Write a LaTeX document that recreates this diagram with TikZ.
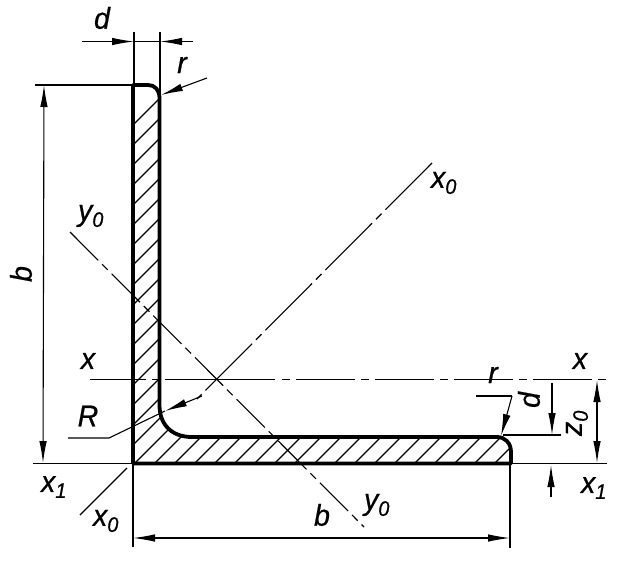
\documentclass[tikz,border=0pt]{standalone}
\usepackage{fontspec}
\setmainfont[FakeStretch=0.95,FakeBold=0.6]{Liberation Sans}
\usetikzlibrary{arrows.meta}
\tikzset{
  thinline/.style={line width=1.1pt},
  outline/.style={line width=3.8pt,line join=round},
  xaxisline/.style={line width=1.1pt,dash pattern=on 8pt off 6pt on 59pt off 6pt},
  slantaxis/.style={line width=1.1pt,dash pattern=on 66pt off 5.5pt on 8pt off 5.5pt},
  yaxisline/.style={line width=1.1pt,dash pattern=on 40pt off 5.5pt on 8pt off 5.5pt},
  dimline/.style={line width=1.1pt,-{Latex[length=22pt,width=7.5pt]}},
  dimboth/.style={line width=1.1pt,{Latex[length=22pt,width=7.5pt]}-{Latex[length=22pt,width=7.5pt]}},
  lab/.style={font=\itshape\fontsize{30}{30}\selectfont,inner sep=0pt},
}
\newcommand{\profile}{(133,85) -- (148,85) .. controls (155,85) and (159.5,90) .. (159.5,98) -- (159.5,405)
  .. controls (159.5,425) and (172,437) .. (192,437) -- (497,437)
  .. controls (505,437) and (511,443) .. (511,452) -- (511,463.5) -- (133,463.5) -- cycle}
\begin{document}
\begin{tikzpicture}[x=1pt,y=-1pt]
  \useasboundingbox (0,0) rectangle (618,560);
  % hatching
  \begin{scope}
    \clip \profile;
    \foreach \c in {258,278,...,958}
      \draw[thinline] (\c-480,480) -- (\c-70,70);
  \end{scope}
  \draw[outline] \profile;
  % axes
  \draw[thinline,dash pattern=on 56pt off 6pt on 6pt off 7pt on 200pt] (90,379.5) -- (275,379.5);
  \draw[xaxisline] (282,379.5) -- (607,379.5);
  \draw[slantaxis] (432,163) -- (197,399);
  \draw[thinline] (127,468) -- (80,515);
  \draw[yaxisline] (70,232) -- (364,527);
  % extension lines
  \draw[thinline] (134,32) -- (134,85);
  \draw[thinline] (160,32) -- (160,94);
  \draw[thinline] (35,85) -- (133,85);
  \draw[thinline] (33,463.5) -- (133,463.5);
  \draw[thinline] (511,463.5) -- (607,463.5);
  \draw[thinline] (133,463.5) -- (133,547);
  \draw[thinline] (510,463.5) -- (510,548);
  \draw[thinline] (503,435) -- (561,435);
  % dimensions
  \coordinate (dleft) at (134,41.5);
  \coordinate (dright) at (160,41.5);
  \draw[dimline] (82,41.5) -- (dleft);
  \draw[dimline] (193,41.5) -- (dright);
  \draw[thinline] (dleft) -- (dright);
  \draw[dimboth] (44,85) -- (43,463);
  \draw[dimboth] (133,538) -- (510,538);
  \draw[dimboth] (597,380) -- (597,463);
  \draw[dimline] (552,383) -- (552,435);
  \draw[dimline] (551,497) -- (551,465);
  % leaders
  \draw[dimline] (207,78) -- (161,95);
  \draw[dimline] (202,396) -- (165,411);
  \draw[thinline] (68,438) -- (109,438) -- (165,411);
  \draw[dimline] (512,396) -- (501,436);
  \draw[thinline] (476,396) -- (512,396);
  % labels
  \node[lab] (labd) at (102,18) {d};
  \node[lab] (labr) at (182,65) {r};
  \node[lab,rotate=90] (labb) at (21,274) {b};
  \node[lab] (laby) at (91,216) {y\textsubscript{0}};
  \node[lab] (labxa) at (444,183) {x\textsubscript{0}};
  \node[lab] (labx) at (88,361) {x};
  \node[lab] (labxr) at (580,361) {x};
  \node[lab] (labR) at (88,416) {R};
  \node[lab] (labxb) at (54,487) {x\textsubscript{1}};
  \node[lab] (labxc) at (106,521) {x\textsubscript{0}};
  \node[lab] (labbb) at (322,515) {b};
  \node[lab] (labyb) at (377,505) {y\textsubscript{0}};
  \node[lab] (labrr) at (493,375) {r};
  \node[lab,rotate=90] (labdd) at (529,400) {d};
  \node[lab,rotate=90] (labz) at (577,423) {z\textsubscript{0}};
  \node[lab] (labxd) at (594,488) {x\textsubscript{1}};
\end{tikzpicture}
\end{document}
